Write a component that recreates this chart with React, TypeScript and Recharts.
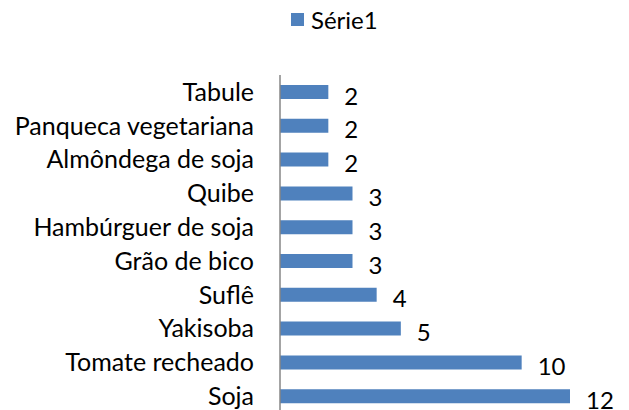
import React from "react";
import { BarChart, Bar, XAxis, YAxis, Legend, LabelList } from "recharts";

const categories = [
  "Tabule",
  "Panqueca vegetariana",
  "Almôndega de soja",
  "Quibe",
  "Hambúrguer de soja",
  "Grão de bico",
  "Suflê ",
  "Yakisoba",
  "Tomate recheado",
  "Soja",
];
const serie1 = [2, 2, 2, 3, 3, 3, 4, 5, 10, 12];
const seriesName = "Série1";

const data = categories.map((c, i) => ({ name: c, v: serie1[i] }));

const FONT = "Lato, 'Liberation Sans', sans-serif";

const ValueLabel = (props: any) => {
  const { x, y, width, height, value } = props;
  return (
    <text
      x={x + width + 16}
      y={y + height / 2 + 3}
      textAnchor="start"
      dominantBaseline="central"
      fontSize={24}
      fontFamily={FONT}
      fill="#000"
    >
      {value}
    </text>
  );
};

const LegendContent = () => (
  <div style={{ display: "flex", alignItems: "center", fontFamily: FONT, fontSize: 24, color: "#000", height: 27 }}>
    <span style={{ display: "inline-block", width: 13, height: 13, background: "#4F81BD", marginRight: 7 }} />
    <span>{seriesName}</span>
  </div>
);

export default function App() {
  return (
    <div style={{ position: "absolute", left: 0, top: 0, background: "#fff" }}>
      <BarChart
        width={629}
        height={420}
        data={data}
        layout="vertical"
        margin={{ top: 48, right: 59, bottom: 7, left: 0 }}
        barSize={14}
      >
        <XAxis type="number" domain={[0, 12]} hide />
        <YAxis
          type="category"
          dataKey="name"
          width={280}
          tickLine={false}
          tickSize={0}
          tickMargin={26}
          axisLine={{ stroke: "#868686", strokeWidth: 1.5 }}
          tick={{ fill: "#000", fontSize: 25, fontFamily: FONT }}
          interval={0}
        />
        <Legend
          verticalAlign="top"
          content={<LegendContent />}
          wrapperStyle={{ top: 6, left: 291, width: "auto", height: 27 }}
        />
        <Bar dataKey="v" name={seriesName} fill="#4F81BD" isAnimationActive={false}>
          <LabelList dataKey="v" content={<ValueLabel />} />
        </Bar>
      </BarChart>
    </div>
  );
}
